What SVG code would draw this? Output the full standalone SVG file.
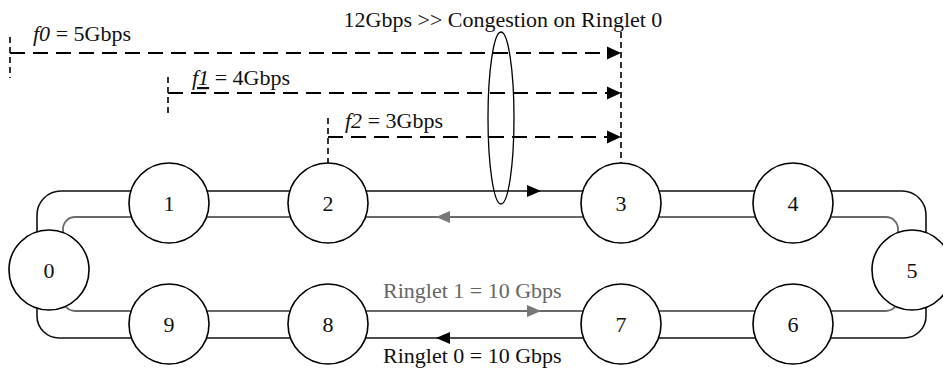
<svg xmlns="http://www.w3.org/2000/svg" width="943" height="372" viewBox="0 0 943 372">
<style>
text{font-family:"Liberation Serif","Times New Roman",serif;font-size:22px;fill:#111}
.node circle{fill:#fff;stroke:#000;stroke-width:1.6}
.node text{text-anchor:middle}
.ring0{fill:none;stroke:#111;stroke-width:1.6}
.ring1{fill:none;stroke:#6a6a6a;stroke-width:1.8}
.flow{fill:none;stroke:#000;stroke-width:2.2;stroke-dasharray:15 8}
.tick{fill:none;stroke:#000;stroke-width:1.6;stroke-dasharray:6 4}
.ah{fill:#000}
.ahg{fill:#777}
</style>
<g id="connectors">
<path class="ring0" d="M61,191 H902 A24,24 0 0 1 926,215 V316 A22,22 0 0 1 904,338 H59 A22,22 0 0 1 37,316 V215 A24,24 0 0 1 61,191 Z"/>
<path class="ring1" d="M75,217 H886 A12,12 0 0 1 898,229 V299 A12,12 0 0 1 886,311 H75 A12,12 0 0 1 63,299 V229 A12,12 0 0 1 75,217 Z"/>
<path class="ah" d="M541,191 L527,185 L527,197 Z"/>
<path class="ahg" d="M436,217 L450,211 L450,223 Z"/>
<path class="ahg" d="M541,311 L527,305 L527,317 Z"/>
<path class="ah" d="M436,338 L450,332 L450,344 Z"/>
<path class="tick" d="M10,37 V78"/>
<path class="tick" d="M168,77 V116"/>
<path class="tick" d="M328,118 V163"/>
<path class="tick" d="M621,32 V163"/>
<path class="flow" d="M10,53 H608"/>
<path class="flow" d="M168,93 H608"/>
<path class="flow" d="M328,137 H608"/>
<path class="ah" d="M621,53 L607,46.5 L607,59.5 Z"/>
<path class="ah" d="M621,93 L607,86.5 L607,99.5 Z"/>
<path class="ah" d="M621,137 L607,130.5 L607,143.5 Z"/>
<ellipse cx="501" cy="118" rx="13" ry="86" fill="none" stroke="#000" stroke-width="1.3"/>
</g>
<g id="labels">
<text x="503" y="27" text-anchor="middle" fill="#222">12Gbps &gt;&gt; Congestion on Ringlet 0</text>
<text x="33" y="41"><tspan font-style="italic">f0</tspan> = 5Gbps</text>
<text x="192" y="85"><tspan font-style="italic" text-decoration="underline">f1</tspan> = 4Gbps</text>
<text x="345" y="128"><tspan font-style="italic">f2</tspan> = 3Gbps</text>
<text x="383" y="298" style="fill:#666">Ringlet 1 = 10 Gbps</text>
<text x="383" y="363">Ringlet 0 = 10 Gbps</text>
</g>
<g id="node0" class="node"><circle cx="49" cy="270" r="40"/><text x="49" y="278">0</text></g>
<g id="node1" class="node"><circle cx="169" cy="203" r="40"/><text x="169" y="211">1</text></g>
<g id="node2" class="node"><circle cx="328" cy="203" r="40"/><text x="328" y="211">2</text></g>
<g id="node3" class="node"><circle cx="621" cy="203" r="40"/><text x="621" y="211">3</text></g>
<g id="node4" class="node"><circle cx="793" cy="203" r="40"/><text x="793" y="211">4</text></g>
<g id="node5" class="node"><circle cx="912" cy="270" r="40"/><text x="912" y="278">5</text></g>
<g id="node6" class="node"><circle cx="793" cy="324" r="40"/><text x="793" y="332">6</text></g>
<g id="node7" class="node"><circle cx="621" cy="324" r="40"/><text x="621" y="332">7</text></g>
<g id="node8" class="node"><circle cx="328" cy="324" r="40"/><text x="328" y="332">8</text></g>
<g id="node9" class="node"><circle cx="169" cy="324" r="40"/><text x="169" y="332">9</text></g>
</svg>
